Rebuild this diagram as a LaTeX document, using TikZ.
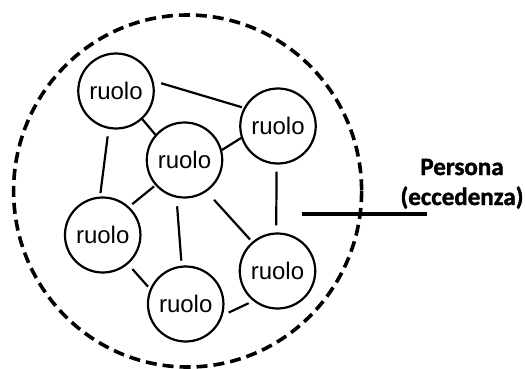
\documentclass[tikz,border=0pt]{standalone}
\usepackage{fontspec}
\setmainfont{Liberation Sans}
\newfontfamily\labelfont{Carlito}[BoldFont={* Bold}, BoldFeatures={FakeBold=1.5}]
\usetikzlibrary{shapes.geometric}

\tikzset{
  role/.style={draw, ellipse, line width=2.2pt, minimum width=68pt, minimum height=75pt,
    inner sep=0pt, font=\fontsize{24}{28}\selectfont},
  link/.style={line width=2.2pt},
  boundary/.style={draw, line width=3.6pt, dash pattern=on 11pt off 6pt},
  leader/.style={line width=3.4pt},
  caption/.style={font=\labelfont\bfseries\fontsize{25}{30}\selectfont, align=center, inner sep=0pt}
}

\begin{document}
\begin{tikzpicture}[x=1pt, y=-1pt]
  \useasboundingbox (0,0) rectangle (525,369);

  % the person as a dashed boundary
  \draw[boundary] (187.6,191) ellipse [x radius=174, y radius=176];

  % roles
  \node[role] (tl) at (116,91)    {ruolo};
  \node[role] (tr) at (278,126)   {ruolo};
  \node[role] (c)  at (184.5,160) {ruolo};
  \node[role] (l)  at (102.7,235) {ruolo};
  \node[role] (b)  at (185.7,304) {ruolo};
  \node[role] (br) at (277.5,271) {ruolo};

  % links between roles
  \draw[link, shorten <=8pt, shorten >=2pt]   (tl.15)   -- (tr.152);
  \draw[link]                                 (tl.-47)  -- (c.139);
  \draw[link, shorten <=7.5pt, shorten >=3.5pt] (tl.-101) -- (l.94);
  \draw[link]                                 (c.15)    -- (tr.198);
  \draw[link, shorten <=1.5pt, shorten >=4pt] (c.221)   -- (l.47);
  \draw[link, shorten <=8.5pt, shorten >=5pt] (c.-102)  -- (b.96);
  \draw[link, shorten <=11pt, shorten >=3pt]  (c.-55)   -- (br.131);
  \draw[link, shorten <=7pt, shorten >=7pt]   (tr.-92)  -- (br.92);
  \draw[link, shorten <=6.5pt, shorten >=3pt] (l.-49)   -- (b.157);
  \draw[link, shorten <=6.5pt, shorten >=5pt] (b.-17)   -- (br.231);

  % caption with its leader line
  \node[caption, anchor=base] (persona) at (462,175) {Persona};
  \node[caption, anchor=base] (excess) at (462,205) {(eccedenza)};
  \coordinate (leadA) at (301.7,214);
  \coordinate (leadB) at (426.7,214);
  \draw[leader] (leadA) -- (leadB);
\end{tikzpicture}
\end{document}
